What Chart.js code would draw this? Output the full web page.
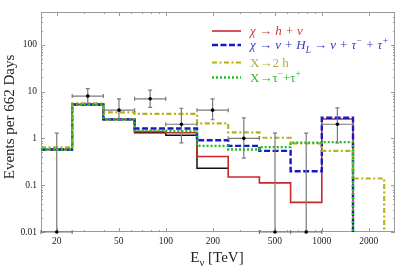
<!DOCTYPE html>
<html><head><meta charset="utf-8">
<script src="https://cdn.jsdelivr.net/npm/chart.js@4/dist/chart.umd.min.js"></script>
<style>html,body{margin:0;padding:0;background:#fff;overflow:hidden}</style>
</head><body>
<canvas id="c" width="399" height="267" style="width:399px;height:267px;display:block"></canvas>
<script>
// ---- data ----
const binEdges   = [15.85, 25.12, 39.81, 63.10, 100.0, 158.5, 251.2, 398.1, 631.0, 1000, 1585, 2512];
const redHist    = [0.58, 5.3, 2.54, 1.39, 1.32, 0.41, 0.15, 0.112, 0.043, 2.6];
const blueHist   = [0.58, 5.3, 2.54, 1.63, 1.63, 0.91, 0.69, 0.54, 0.198, 2.75];
const yellowHist = [0.64, 5.6, 3.6, 3.35, 3.35, 2.08, 1.34, 1.03, 0.78, 0.54, 0.139];
const greenHist  = [0.58, 5.3, 2.54, 1.45, 1.43, 0.69, 0.58, 0.65, 0.81, 0.83];
const blackHist  = [0.58, 5.3, 2.54, 1.32, 1.16, 0.23];
const dataCenters = [20, 31.6, 50.1, 79.4, 125.9, 199.5, 316.2, 501.2, 794.3, 1259];
const dataCounts  = [0, 8, 4, 7, 2, 4, 1, 0, 0, 2];
const dataLow     = [0, 5.6, 2.5, 4.6, 0.8, 2.5, 0.38, 0, 0, 0.8];
const dataHigh    = [1.29, 11.6, 7.0, 10.7, 4.4, 7.0, 2.75, 1.29, 1.29, 4.5];
const xTickLabels = [20, 50, 100, 200, 500, 1000, 2000];
const yTickLabels = [0.01, 0.1, 1, 10, 100];
const legendLabels = ['χ → h + ν', 'χ → ν + H_{L} → ν + τ^{−} + τ^{+}', 'X→2 h', 'X→τ^{−}+τ^{+}'];
const yTitle = 'Events per 662 Days';
const xTitle = 'E_{ν} [TeV]';

const Y_MIN = 0.01, Y_MAX = 500, X_MIN = 15.85, X_MAX = 2946;
const ZERO_FLOOR = 1e-6; // stand-in for "no events" on a log axis (clipped away)

// ---- styles ----
const COL = {red:'#c8282c', blue:'#1818c8', yellow:'#b3b31c', green:'#22bb22', black:'#111'};
const TEXTCOL = {red:'#c83a3a', blue:'#3838c8', yellow:'#b0b040', green:'#30b830'};
const SERIF = '"Liberation Serif","DejaVu Serif",serif';

function hist(vals, dropToZero) {
  const pts = vals.map((v, i) => ({x: binEdges[i], y: v}));
  pts.push({x: binEdges[vals.length], y: dropToZero ? ZERO_FLOOR : vals[vals.length - 1]});
  return pts;
}
function binLo(i){ return binEdges[i]; }
function binHi(i){ return binEdges[i+1]; }
const shown = v => (v > 0 ? v : Y_MIN);

const legendStyles = [
  {color: COL.red, text: TEXTCOL.red, dash: [], width: 1.6, italic: true},
  {color: COL.blue, text: TEXTCOL.blue, dash: [6, 2.5], width: 2.4, italic: true},
  {color: COL.yellow, text: TEXTCOL.yellow, dash: [5, 2.5, 2, 2.5], width: 2.2, italic: false},
  {color: COL.green, text: TEXTCOL.green, dash: [2, 2], width: 2.4, italic: false}
];

function parseRich(s) {
  const out = []; let i = 0; let buf = '';
  while (i < s.length) {
    if ((s[i] === '_' || s[i] === '^') && s[i+1] === '{') {
      if (buf) { out.push({t: buf, k: 'n'}); buf = ''; }
      const j = s.indexOf('}', i);
      out.push({t: s.slice(i+2, j), k: s[i] === '_' ? 'sub' : 'sup'});
      i = j + 1;
    } else { buf += s[i]; i++; }
  }
  if (buf) out.push({t: buf, k: 'n'});
  return out;
}
function drawRich(ctx, s, x, y, size, italic, align) {
  const parts = parseRich(s);
  const f = (sz) => (italic ? 'italic ' : '') + sz + 'px ' + SERIF;
  let w = 0;
  parts.forEach(p => { ctx.font = f(p.k === 'n' ? size : size * 0.72); w += ctx.measureText(p.t).width; });
  let cx = align === 'center' ? x - w / 2 : x;
  ctx.textBaseline = 'alphabetic'; ctx.textAlign = 'left';
  parts.forEach(p => {
    const sz = p.k === 'n' ? size : size * 0.72;
    ctx.font = f(sz);
    const dy = p.k === 'sub' ? size * 0.28 : p.k === 'sup' ? -size * 0.38 : 0;
    ctx.fillText(p.t, cx, y + dy);
    cx += ctx.measureText(p.t).width;
  });
}

const framePlugin = {
  id: 'frame',
  beforeDatasetsDraw(chart) {
    const {ctx, chartArea: a, scales: {x, y}} = chart;
    ctx.save();
    ctx.strokeStyle = '#9a9a9a'; ctx.lineWidth = 1;
    ctx.strokeRect(a.left + 0.5, a.top + 0.5, a.right - a.left - 1, a.bottom - a.top - 1);
    ctx.beginPath();
    for (let d = 10; d <= 10000; d *= 10) for (let m = 1; m <= 9; m++) {
      const v = d * m; if (v < x.min || v > x.max) continue;
      const major = xTickLabels.includes(v);
      const len = major ? 4 : 2;
      const px = Math.round(x.getPixelForValue(v)) + 0.5;
      ctx.moveTo(px, a.bottom); ctx.lineTo(px, a.bottom - len);
      ctx.moveTo(px, a.top); ctx.lineTo(px, a.top + len);
    }
    for (let d = 0.01; d <= 1000; d *= 10) for (let m = 1; m <= 9; m++) {
      const v = +(d * m).toPrecision(3); if (v < y.min || v > y.max) continue;
      const len = m === 1 ? 4 : 2;
      const py = Math.round(y.getPixelForValue(v)) + 0.5;
      ctx.moveTo(a.left, py); ctx.lineTo(a.left + len, py);
      ctx.moveTo(a.right, py); ctx.lineTo(a.right - len, py);
    }
    ctx.stroke();
    ctx.restore();
  },
  beforeDatasetDraw(chart, args) {
    if (args.index !== 0) return;
    const {ctx, scales: {x, y}} = chart;
    ctx.save();
    ctx.strokeStyle = '#7a7a7a'; ctx.lineWidth = 1.2;
    ctx.beginPath();
    dataCenters.forEach((c, i) => {
      const px = x.getPixelForValue(c);
      const py = y.getPixelForValue(shown(dataCounts[i]));
      const pl = y.getPixelForValue(shown(dataLow[i]));
      const ph = y.getPixelForValue(dataHigh[i]);
      const xl = x.getPixelForValue(binLo(i)), xh = x.getPixelForValue(binHi(i));
      ctx.moveTo(px, pl); ctx.lineTo(px, ph);
      ctx.moveTo(px - 2, ph); ctx.lineTo(px + 2, ph);
      if (dataLow[i] > 0) { ctx.moveTo(px - 2, pl); ctx.lineTo(px + 2, pl); }
      ctx.moveTo(xl, py); ctx.lineTo(xh, py);
      ctx.moveTo(xl, py - 2); ctx.lineTo(xl, py + 2);
      ctx.moveTo(xh, py - 2); ctx.lineTo(xh, py + 2);
    });
    ctx.stroke();
    ctx.restore();
  },
  afterDraw(chart) {
    const {ctx, chartArea: a} = chart;
    ctx.save();
    const rows = [31, 45, 62.5, 77.5];
    legendLabels.forEach((lab, i) => {
      const st = legendStyles[i];
      ctx.strokeStyle = st.color; ctx.lineWidth = st.width; ctx.setLineDash(st.dash);
      ctx.beginPath(); ctx.moveTo(212, rows[i]); ctx.lineTo(241, rows[i]); ctx.stroke();
      ctx.setLineDash([]);
      ctx.fillStyle = st.text;
      drawRich(ctx, lab, 250, rows[i] + 4, 13, st.italic, 'left');
    });
    ctx.fillStyle = '#222';
    drawRich(ctx, xTitle, (a.left + a.right) / 2 - 1, 262, 15, false, 'center');
    ctx.translate(14, 117); ctx.rotate(-Math.PI / 2);
    drawRich(ctx, yTitle, 0, 0, 15, false, 'center');
    ctx.restore();
  }
};

const lineDs = (label, pts, color, width, dash, order) => ({
  type: 'line', label, data: pts, borderColor: color, borderWidth: width, borderDash: dash,
  stepped: 'before', pointRadius: 0, fill: false, order, clip: 0, tension: 0, spanGaps: false
});

new Chart(document.getElementById('c'), {
  type: 'line',
  data: {
    datasets: [
      {type: 'scatter', label: 'IceCube data', data: dataCenters.map((c, i) => ({x: c, y: shown(dataCounts[i])})),
       pointRadius: 1.8, pointBackgroundColor: '#000', pointBorderColor: '#000', borderWidth: 0, showLine: false, order: 0, clip: 4},
      lineDs('X→τ⁻+τ⁺', hist(greenHist, true), COL.green, 2.4, [2, 2], 1),
      lineDs('X→2 h', hist(yellowHist, true), COL.yellow, 2.2, [5, 2.5, 2, 2.5], 2),
      lineDs('χ → ν + H_L → ν + τ⁻ + τ⁺', hist(blueHist, true), COL.blue, 2.4, [6, 2.5], 3),
      lineDs('χ → h + ν', hist(redHist, true), COL.red, 1.6, [], 4),
      lineDs('background', hist(blackHist, false), COL.black, 1.5, [], 5)
    ]
  },
  options: {
    responsive: false, animation: false, devicePixelRatio: 1,
    layout: {padding: {left: 0, right: 4, top: 12, bottom: 0}},
    plugins: {legend: {display: false}, tooltip: {enabled: false}},
    scales: {
      x: {
        type: 'logarithmic', min: X_MIN, max: X_MAX,
        grid: {display: false, drawTicks: false}, border: {display: false},
        afterBuildTicks: s => { s.ticks = xTickLabels.map(v => ({value: v})); },
        afterFit: s => { s.height = 35; },
        ticks: {callback: v => String(v), font: {family: SERIF, size: 9.5}, color: '#222', padding: 4, maxRotation: 0, autoSkip: false}
      },
      y: {
        type: 'logarithmic', min: Y_MIN, max: Y_MAX,
        grid: {display: false, drawTicks: false}, border: {display: false},
        afterBuildTicks: s => { s.ticks = yTickLabels.map(v => ({value: v})); },
        afterFit: s => { s.width = 41; },
        ticks: {callback: v => String(v), font: {family: SERIF, size: 9.5}, color: '#222', padding: 4, autoSkip: false}
      }
    }
  },
  plugins: [framePlugin]
});
</script>
</body></html>
